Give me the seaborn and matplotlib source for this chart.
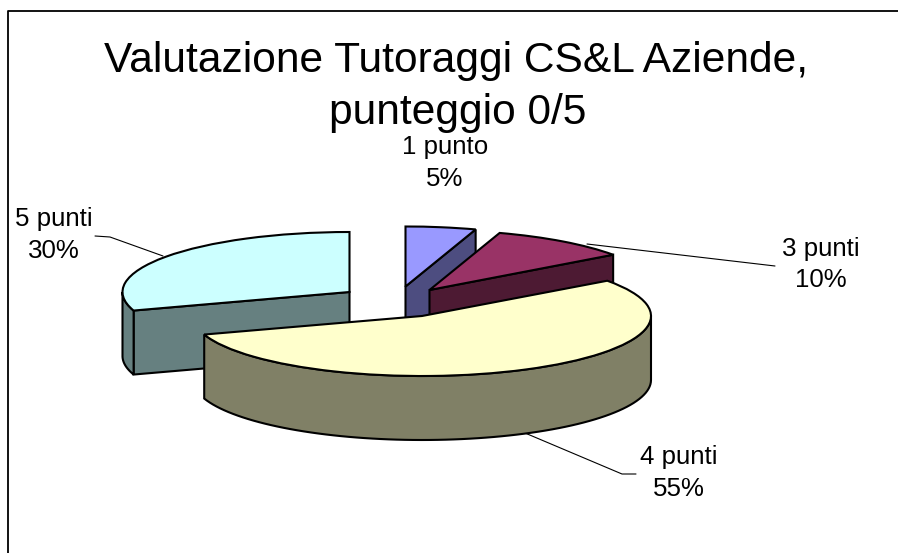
#torta 3D esplosa, stile Excel
import numpy as np
import matplotlib
matplotlib.use('Agg')
import matplotlib.pyplot as plt
from matplotlib.transforms import Affine2D
import seaborn as sns

# dati
categories = ['1 punto', '3 punti', '4 punti', '5 punti']
values = [5, 10, 55, 30]
title_lines = ['Valutazione Tutoraggi CS&L Aziende,', 'punteggio 0/5']

# colori e geometria (pixel del riferimento)
colors = sns.color_palette(['#9999FF', '#993366', '#FFFFCC', '#CCFFFF'])
apex_x = [405.5, 429.5, 422, 349.5]
apex_y = [286.5, 290, 316, 292]
rx = [227, 227, 229, 227]
ry = [60, 60, 60, 60]
depth = 64
draw_order = [3, 0, 1, 2]
label_pos = [(445, 163), (821, 264.5), (679, 473), (54, 235)]
leaders = [None,
           [(587, 244), (775, 266)],
           [(525, 433), (622, 474), (636, 474)],
           [(95, 236), (110, 237), (163, 256)]]

sns.set_theme(style='white')
plt.rcParams['font.family'] = ['Liberation Sans', 'DejaVu Sans']

fig = plt.figure(figsize=(8.98, 5.53), dpi=100)
ax = fig.add_axes([0, 0, 1, 1])

wedges, _ = ax.pie(values, startangle=90, counterclock=False, radius=1,
                   wedgeprops={'edgecolor': 'black', 'linewidth': 1.5})
ax.set_aspect('auto')
ax.set_xlim(0, 898)
ax.set_ylim(553, 0)
ax.axis('off')


def ell(i, theta):
    t = np.radians(theta)
    return apex_x[i] + rx[i] * np.cos(t), apex_y[i] - ry[i] * np.sin(t)


def side(px, py, color, z):
    xs = list(px) + list(px)[::-1]
    ys = list(py) + [y + depth for y in list(py)[::-1]]
    ax.fill(xs, ys, facecolor=color, edgecolor='black', linewidth=1.5,
            zorder=z, clip_on=False)


for z, i in enumerate(draw_order):
    w = wedges[i]
    dark = tuple(c * 0.5 for c in colors[i])
    t1, t2 = w.theta1, w.theta2
    base = 10 + z * 3

    # faccia radiale visibile
    radial = t2 if categories[i] == '5 punti' else t1
    if categories[i] != '4 punti':
        ex, ey = ell(i, radial)
        side([apex_x[i], ex], [apex_y[i], ey], dark, base)

    # bordo esterno: solo la meta' davanti
    lo, hi = (t1 + 360) % 360, (t2 + 360) % 360
    if hi <= lo:
        hi += 360
    lo2, hi2 = max(lo, 180), min(hi, 360)
    if hi2 > lo2:
        th = np.linspace(lo2, hi2, 80)
        ex, ey = ell(i, th)
        side(ex, ey, dark, base + 1)

    w.set_facecolor(colors[i])
    w.set_transform(Affine2D().scale(rx[i], -ry[i]).translate(apex_x[i], apex_y[i]) + ax.transData)
    w.set_zorder(base + 2)
    w.set_clip_on(False)

# cornice: solo alto e sinistra
ax.plot([898, 7.5, 7.5], [11, 11, 553], color='black', lw=1.3, zorder=1, clip_on=False)

# titolo
ax.text(456.5, 61, title_lines[0], fontsize=30.6, ha='center', va='center', color='black', zorder=30)
ax.text(458, 113, title_lines[1], fontsize=30.6, ha='center', va='center', color='black', zorder=30)

# etichette e linee guida
for i, cat in enumerate(categories):
    ax.text(label_pos[i][0], label_pos[i][1], f'{cat}\n{values[i]}%', fontsize=18.6,
            ha='center', va='center', linespacing=1.42, color='black', zorder=30)
    if leaders[i]:
        lx, ly = zip(*leaders[i])
        ax.plot(lx, ly, color='black', lw=0.8, zorder=5)

fig.savefig('out.png', dpi=100, facecolor='white')
